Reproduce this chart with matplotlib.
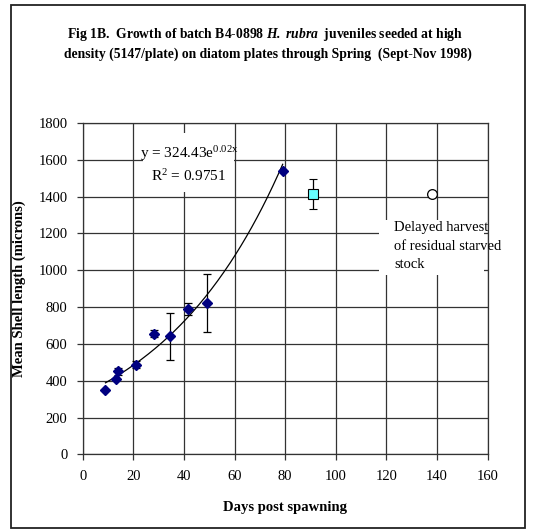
import numpy as np
import matplotlib
matplotlib.use("Agg")
import matplotlib.pyplot as plt
from matplotlib.patches import Rectangle

plt.rcParams['font.family'] = 'Liberation Serif'
plt.rcParams['mathtext.fontset'] = 'custom'
plt.rcParams['mathtext.rm'] = 'Liberation Serif'
plt.rcParams['mathtext.it'] = 'Liberation Serif:italic'
plt.rcParams['mathtext.bf'] = 'Liberation Serif:bold'
plt.rcParams['mathtext.bfit'] = 'Liberation Serif:italic:bold'

# growth of batch B4-0898 (days post spawning, mean shell length in microns)
days = [9, 13, 14, 21, 28, 34.5, 41.5, 49, 79]
length = [350, 410, 450, 487, 655, 640, 790, 824, 1540]
length_err = [0, 0, 20, 20, 20, 129, 32, 158, 0]

# delayed harvest points
delayed_day = [91]
delayed_len = [1415]
delayed_err = [80]
starved_day = [138]
starved_len = [1415]

# exponential trendline y = a*exp(b*x)
fit_a = 324.43
fit_b = 0.02
fit_r2 = 0.9751

fig = plt.figure(figsize=(5.35, 5.32), dpi=100)
ax = fig.add_axes([0.1546, 0.146, 0.757, 0.623])

# outer frame
fig.add_artist(Rectangle((0.021, 0.008), 0.96, 0.982, transform=fig.transFigure,
                         fill=False, edgecolor='#222222', linewidth=1.3))

ax.set_xlim(0, 160)
ax.set_ylim(0, 1800)
ax.set_xticks(np.arange(0, 161, 20))
ax.set_yticks(np.arange(0, 1801, 200))
ax.grid(True, color='#333333', linewidth=0.9, zorder=0)
ax.set_axisbelow(True)
for s in ax.spines.values():
    s.set_color('#333333')
    s.set_linewidth(0.9)
ax.tick_params(direction='out', length=4, width=0.9, color='#333333',
               labelsize=10.5, pad=7)

# white label boxes drawn over the grid
ax.add_patch(Rectangle((23.7, 1427), 36, 318, facecolor='white', edgecolor='none', zorder=1))
ax.add_patch(Rectangle((117, 975), 41.6, 295, facecolor='white', edgecolor='none', zorder=1))

xs = np.linspace(days[0], days[-1], 200)
ax.plot(xs, fit_a * np.exp(fit_b * xs), color='black', linewidth=0.9, zorder=2)

ax.errorbar(days, length, yerr=length_err, fmt='D', color='#000080', markersize=5,
            ecolor='black', elinewidth=0.9, capsize=3, capthick=0.9, zorder=3)
ax.errorbar(delayed_day, delayed_len, yerr=delayed_err, fmt='s', markerfacecolor='#66ffff',
            markeredgecolor='black', markeredgewidth=0.8, markersize=7,
            ecolor='black', elinewidth=0.9, capsize=3, capthick=0.9, zorder=3)
ax.plot(starved_day, starved_len, 'o', markerfacecolor='white', markeredgecolor='black',
        markeredgewidth=0.9, markersize=7, zorder=3)

ax.text(42, 1632, r"y = %.2fe$^{\mathrm{%.2fx}}$" % (fit_a, fit_b), fontsize=11,
        ha='center', va='center', zorder=4)
ax.text(42, 1509, r"R$^{\mathrm{2}}$ = %.4f" % fit_r2, fontsize=11,
        ha='center', va='center', zorder=4)

ax.text(123, 1130, "Delayed harvest\nof residual starved\nstock", fontsize=10.5,
        ha='left', va='center', linespacing=1.55, zorder=4)

ax.set_xlabel("Days post spawning", fontsize=10.5, fontweight='bold', labelpad=13)
ax.set_ylabel("Mean Shell length (microns)", fontsize=10.5, fontweight='bold', labelpad=9)

fig.text(0.495, 0.936, r"Fig 1B.  Growth of batch B4-0898 $\mathbfit{H.\ rubra}$  juveniles seeded at high",
         fontsize=9.8, fontweight='bold', ha='center', va='center')
fig.text(0.5, 0.898, "density (5147/plate) on diatom plates through Spring  (Sept-Nov 1998)",
         fontsize=9.8, fontweight='bold', ha='center', va='center')

fig.savefig("out.png", dpi=100)
